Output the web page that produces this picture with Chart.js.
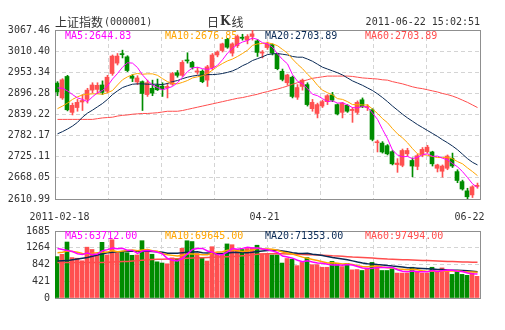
<!DOCTYPE html>
<html><head><meta charset="utf-8">
<script src="https://cdn.jsdelivr.net/npm/chart.js@4/dist/chart.umd.min.js"></script>
<style>
html,body{margin:0;padding:0;background:#fff;}
#wrap{position:relative;width:505px;height:330px;overflow:hidden;}
#c1{position:absolute;left:0;top:0;}
#c2{position:absolute;left:0;top:215px;}
</style></head><body>
<div id="wrap"><canvas id="c1" width="505" height="225"></canvas><canvas id="c2" width="505" height="115"></canvas></div>
<script>
// ---------------- DATA ----------------
const days = ['02-18','02-21','02-22','02-23','02-24','02-25','02-28','03-01','03-02','03-03','03-04','03-07','03-08','03-09','03-10','03-11','03-14','03-15','03-16','03-17','03-18','03-21','03-22','03-23','03-24','03-25','03-28','03-29','03-30','03-31','04-01','04-06','04-07','04-08','04-11','04-12','04-13','04-14','04-15','04-18','04-19','04-20','04-21','04-22','04-25','04-26','04-27','04-28','04-29','05-03','05-04','05-05','05-06','05-09','05-10','05-11','05-12','05-13','05-16','05-17','05-18','05-19','05-20','05-23','05-24','05-25','05-26','05-27','05-30','05-31','06-01','06-02','06-03','06-07','06-08','06-09','06-10','06-13','06-14','06-15','06-16','06-17','06-20','06-21','06-22'];
const open  = [2924,2884,2942,2845,2858,2873,2880,2905,2907,2919,2902,2950,2978,3003,2995,2943,2927,2928,2893,2910,2918,2916,2912,2921,2952,2945,2986,2980,2954,2956,2932,2966,3000,3012,3042,3005,3025,3048,3040,3050,3038,3005,3020,3028,3002,2956,2925,2940,2886,2915,2920,2855,2842,2862,2874,2892,2866,2845,2864,2850,2845,2879,2858,2852,2763,2762,2755,2739,2704,2702,2733,2715,2699,2730,2739,2738,2694,2686,2694,2721,2685,2658,2633,2622,2645];
const high  = [2928,2936,2945,2870,2880,2893,2910,2925,2925,2930,2945,3000,3004,3013,2998,2947,2944,2930,2932,2932,2935,2925,2924,2953,2958,2985,3006,2983,2966,2960,2972,3004,3011,3032,3045,3033,3054,3056,3055,3067.46,3042,3012,3035,3030,3005,2962,2948,2943,2920,2935,2925,2880,2870,2878,2893,2899,2868,2872,2866,2858,2876,2884,2866,2855,2770,2766,2758,2742,2720,2746,2748,2722,2732,2750,2756,2740,2705,2703,2730,2735,2690,2662,2640,2647,2654];
const low   = [2890,2880,2849,2838,2848,2850,2870,2898,2896,2893,2898,2945,2973,2992,2955,2928,2920,2850,2888,2890,2904,2888,2884,2918,2940,2942,2978,2962,2948,2925,2915,2960,2995,3008,3018,2997,3020,3040,3030,3040,2996,2992,3015,3000,2960,2930,2918,2884,2880,2905,2862,2848,2830,2858,2866,2874,2838,2830,2845,2818,2840,2858,2850,2768,2738,2735,2730,2703,2683,2698,2728,2671,2690,2725,2735,2700,2684,2670,2690,2696,2655,2635,2610.99,2615,2640];
const close = [2900,2933,2852,2864,2872,2877,2905,2919,2918,2899,2940,2997,2997,3001,2958,2937,2938,2896,2925,2897,2906,2908,2915,2950,2945,2980,2984,2967,2957,2928,2968,3000,3008,3030,3021,3030,3050,3045,3050,3057,3007,3008,3030,3005,2963,2934,2946,2888,2912,2932,2866,2872,2866,2874,2890,2878,2841,2870,2848,2853,2872,2860,2860,2772,2765,2738,2733,2706,2708,2742,2742,2700,2728,2745,2751,2706,2703,2700,2727,2700,2661,2638,2617,2644,2648];

const ma5  = [2911,2910,2903,2893,2884,2880,2874,2887,2898,2904,2916,2935,2950,2967,2979,2978,2966,2946,2931,2919,2912,2906,2910,2915,2925,2940,2955,2965,2967,2963,2961,2964,2972,2987,3005,3018,3028,3035,3039,3046,3042,3033,3030,3021,3003,2988,2976,2947,2929,2922,2909,2894,2890,2882,2874,2876,2870,2871,2865,2858,2857,2861,2859,2843,2826,2799,2774,2743,2730,2725,2726,2720,2724,2731,2733,2726,2727,2721,2717,2707,2698,2685,2669,2652,2642];
const ma10 = [2855,2862,2870,2880,2887,2892,2894,2895,2895,2894,2898,2904,2919,2933,2941,2947,2950,2948,2949,2949,2945,2936,2928,2923,2922,2926,2931,2938,2941,2944,2950,2959,2969,2977,2984,2989,2996,3004,3013,3026,3030,3031,3033,3030,3025,3015,3005,2989,2975,2963,2948,2935,2918,2905,2898,2892,2882,2880,2874,2866,2866,2865,2865,2854,2842,2828,2817,2801,2787,2776,2763,2747,2733,2731,2729,2726,2723,2723,2724,2720,2712,2706,2695,2685,2674];
const ma20 = [2787,2793,2800,2808,2818,2832,2843,2851,2860,2869,2880,2893,2903,2912,2917,2921,2922,2922,2921,2921,2921,2920,2923,2928,2931,2936,2940,2943,2945,2946,2947,2947,2948,2950,2953,2957,2963,2971,2977,2985,2990,2995,3001,3003,3004,3002,3000,2996,2994,2994,2989,2983,2975,2967,2962,2957,2952,2946,2938,2930,2924,2918,2911,2904,2895,2885,2874,2862,2851,2840,2830,2821,2812,2804,2796,2788,2780,2771,2763,2754,2744,2732,2720,2710,2703];
const ma60 = [2826,2826,2826,2826,2826,2826,2826,2826,2828,2830,2831,2832,2835,2837,2838,2840,2841,2842,2842,2843,2844,2846,2848,2848,2848,2850,2853,2856,2859,2862,2865,2868,2871,2874,2877,2880,2883,2885,2888,2891,2894,2898,2901,2905,2908,2912,2916,2921,2925,2929,2933,2937,2939,2941,2943,2943,2943,2943,2943,2942,2940,2938,2937,2936,2935,2933,2932,2928,2925,2922,2918,2914,2911,2909,2906,2903,2900,2896,2893,2889,2884,2878,2872,2865,2858];

const vol     = [1042,1099,1408,1017,1001,936,1278,1221,1099,1400,1083,1465,1140,1164,1140,1074,1083,1441,1221,1100,910,880,860,1010,990,1250,1440,1420,1120,1000,930,1290,1120,1100,1360,1340,1220,1220,1245,1262,1327,1115,1115,1083,1083,879,993,977,814,895,1017,838,838,773,773,920,871,790,871,708,716,692,733,895,814,692,692,733,627,627,627,773,651,627,627,773,651,757,708,594,667,594,570,627,545];
const volMa5  = [1245,1220,1197,1170,1113,1092,1128,1091,1107,1187,1216,1254,1237,1250,1198,1197,1120,1180,1192,1184,1151,1110,994,952,930,998,1110,1222,1244,1246,1182,1152,1092,1088,1160,1242,1228,1248,1277,1257,1255,1234,1213,1180,1145,1055,1031,1003,949,912,939,908,880,872,848,828,835,825,845,832,791,755,744,749,770,765,765,765,712,674,661,677,661,661,661,690,666,687,703,697,675,664,627,610,601];
const volMa10 = [1140,1150,1180,1170,1150,1120,1115,1125,1140,1150,1154,1191,1164,1179,1193,1206,1187,1209,1221,1191,1174,1115,1087,1072,1057,1075,1110,1108,1098,1088,1090,1131,1157,1166,1203,1212,1190,1170,1183,1209,1248,1231,1230,1229,1201,1155,1132,1108,1065,1028,997,969,942,911,880,884,872,853,859,840,810,795,785,797,801,778,760,755,730,722,713,721,713,686,668,676,672,674,682,679,683,665,657,657,649];
const volMa20 = [930,935,940,960,980,1000,1017,1050,1080,1110,1140,1150,1160,1170,1175,1180,1178,1176,1174,1171,1164,1153,1126,1126,1125,1141,1149,1159,1160,1140,1132,1123,1122,1119,1130,1144,1150,1139,1141,1149,1169,1181,1194,1198,1202,1184,1161,1139,1124,1119,1123,1100,1086,1070,1041,1020,1002,981,962,934,904,882,864,854,841,831,816,804,795,781,762,758,749,742,735,727,716,715,706,701,698,693,685,672,659];
const volMa60 = [895,895,895,895,895,895,895,895,895,895,900,905,910,915,920,930,940,950,960,970,975,977,980,985,990,995,1000,1005,1010,1015,1020,1025,1030,1035,1040,1045,1050,1060,1070,1085,1100,1105,1110,1110,1110,1110,1108,1105,1100,1095,1090,1085,1080,1075,1068,1060,1055,1048,1040,1030,1025,1017,1010,1003,995,988,980,975,970,965,960,955,950,945,940,935,930,925,920,915,910,906,903,900,897];

const yTickVals   = [3067.46,3010.40,2953.34,2896.28,2839.22,2782.17,2725.11,2668.05,2610.99];
const yTickLabels = ['3067.46','3010.40','2953.34','2896.28','2839.22','2782.17','2725.11','2668.05','2610.99'];
const volTickVals   = [1685,1264,842,421,0];
const volTickLabels = ['1685','1264','842','421','0'];
const dateLabelDays = ['02-18','04-21','06-22'];
const dateLabels    = ['2011-02-18','04-21','06-22'];
const maNames   = ['MA5','MA10','MA20','MA60'];
const maLast    = ['2644.83','2676.85','2703.89','2703.89'];
const volMaLast = ['63712.00','69645.00','71353.00','97494.00'];
const titleName = '上证指数';
const titleCode = '(000001)';
const kindText  = ['日','K','线'];
const stampText = '2011-06-22 15:02:51';

// ---------------- STYLE / LAYOUT ----------------
const UP = '#ff5050', DOWN = '#008c00';
const MA_COLORS = ['#ff00ff','#ffa500','#0a2a55','#ff4d4d'];
const MONO = '"DejaVu Sans Mono", monospace';
const CJK = '"Noto Sans CJK SC", sans-serif';
const GRID = '#d4d4d4';
const N = days.length;
const dateNudge = [0.4, -0.6, -1.6];
const gridX = Array.from({length: 9}, (_, k) => -0.5 + k * N / 8);
const candleColor = close.map((c, i) => c >= open[i] ? UP : DOWN);
const pts = arr => arr.map((v, i) => ({x: i, y: v}));

const textPlugin = {
  id: 'texts',
  beforeDatasetsDraw(chart, args, o) {
    const {ctx, chartArea: a} = chart;
    ctx.save();
    ctx.strokeStyle = '#8f8f8f'; ctx.lineWidth = 1;
    ctx.strokeRect(a.left + 0.5, a.top + 0.5, a.right - a.left, a.bottom - a.top);
    ctx.font = '10px ' + MONO; ctx.textBaseline = 'middle'; ctx.textAlign = 'left';
    o.values.forEach((v, k) => {
      ctx.fillStyle = MA_COLORS[k];
      ctx.fillText(maNames[k] + ':' + v, a.left + 10 + 100 * k, a.top + o.dy);
    });
    if (o.header) {
      const y = 22;
      ctx.fillStyle = '#333';
      ctx.font = '12px ' + CJK; ctx.fillText(titleName, a.left, y);
      const w = ctx.measureText(titleName).width;
      ctx.font = '10px ' + MONO; ctx.fillText(titleCode, a.left + w + 1, y);
      let x = 207;
      ctx.font = '12px ' + CJK; ctx.fillText(kindText[0], x, y); x += ctx.measureText(kindText[0]).width + 1;
      ctx.font = 'bold 12px "DejaVu Serif"'; ctx.fillText(kindText[1], x, y); x += ctx.measureText(kindText[1]).width + 1;
      ctx.font = '12px ' + CJK; ctx.fillText(kindText[2], x, y);
      ctx.font = '10px ' + MONO; ctx.textAlign = 'right'; ctx.fillText(stampText, a.right, y);
    }
    ctx.restore();
  }
};

function lineDs(arr, k, w) {
  return {type: 'line', data: pts(arr), borderColor: MA_COLORS[k], borderWidth: w, pointRadius: 0,
          tension: 0, xAxisID: 'x', yAxisID: 'y', order: 0};
}
function gridXAxis(h) {
  return {type: 'linear', min: -0.5, max: N - 0.5, offset: false, position: 'bottom',
    grid: {color: GRID, lineWidth: 1, drawTicks: false, offset: false},
    border: {display: false, dash: [4, 3]}, ticks: {display: false},
    afterBuildTicks: s => { s.ticks = gridX.map(v => ({value: v})); },
    afterFit: s => { s.height = h; }};
}
const hiddenBodyAxis = {type: 'linear', display: false, min: -0.4, max: N - 0.4, offset: false};

// ---------------- MAIN K-LINE CHART ----------------
new Chart(document.getElementById('c1'), {
  type: 'bar',
  data: {
    datasets: [
      lineDs(ma5, 0, 1), lineDs(ma10, 1, 1), lineDs(ma20, 2, 1), lineDs(ma60, 3, 1),
      {type: 'bar', data: open.map((o, i) => ({x: i, y: [o, close[i]]})), backgroundColor: candleColor,
       barThickness: 4, grouped: false, minBarLength: 1, xAxisID: 'xb', yAxisID: 'y', order: 1},
      {type: 'bar', data: low.map((l, i) => ({x: i, y: [l, high[i]]})), backgroundColor: candleColor,
       barThickness: 1, grouped: false, xAxisID: 'x', yAxisID: 'y', order: 2}
    ]
  },
  options: {
    responsive: false, animation: false, devicePixelRatio: 1, events: [],
    layout: {padding: {top: 30, right: 25, left: 0, bottom: 0}},
    plugins: {legend: {display: false}, tooltip: {enabled: false},
              texts: {values: maLast, dy: 6.5, header: true}},
    scales: {
      x: gridXAxis(0),
      xb: hiddenBodyAxis,
      x2: {type: 'linear', min: -0.5, max: N - 0.5, offset: false, position: 'bottom',
        grid: {display: false, drawTicks: false}, border: {display: false},
        ticks: {autoSkip: false, maxRotation: 0, padding: 12, color: '#333',
                font: {family: MONO, size: 10}, callback: (v, i) => dateLabels[i]},
        afterBuildTicks: s => { s.ticks = dateLabelDays.map((d, k) => ({value: days.indexOf(d) + dateNudge[k]})); },
        afterFit: s => { s.height = 26; }},
      y: {type: 'linear', min: yTickVals[yTickVals.length - 1], max: yTickVals[0], beginAtZero: false,
        grid: {color: GRID, drawTicks: false}, border: {display: false, dash: [4, 3]},
        ticks: {autoSkip: false, padding: 5, color: '#333', font: {family: MONO, size: 10},
                callback: (v, i) => yTickLabels[i]},
        afterBuildTicks: s => { s.ticks = yTickVals.map(v => ({value: v})); },
        afterFit: s => { s.width = 55; }}
    }
  },
  plugins: [textPlugin]
});

// ---------------- VOLUME CHART ----------------
new Chart(document.getElementById('c2'), {
  type: 'bar',
  data: {
    datasets: [
      lineDs(volMa5, 0, 1.5), lineDs(volMa10, 1, 1.5), lineDs(volMa20, 2, 1.5), lineDs(volMa60, 3, 1.5),
      {type: 'bar', data: pts(vol), backgroundColor: candleColor, barThickness: 4, grouped: false,
       xAxisID: 'xb', yAxisID: 'y', order: 1}
    ]
  },
  options: {
    responsive: false, animation: false, devicePixelRatio: 1, events: [],
    layout: {padding: {top: 16, right: 25, left: 0, bottom: 0}},
    plugins: {legend: {display: false}, tooltip: {enabled: false},
              texts: {values: volMaLast, dy: 5.5, header: false}},
    scales: {
      x: gridXAxis(32),
      xb: hiddenBodyAxis,
      y: {type: 'linear', min: 0, max: volTickVals[0], beginAtZero: false,
        grid: {color: GRID, drawTicks: false}, border: {display: false, dash: [4, 3]},
        ticks: {autoSkip: false, padding: 5, color: '#333', font: {family: MONO, size: 10},
                callback: (v, i) => volTickLabels[i]},
        afterBuildTicks: s => { s.ticks = volTickVals.map(v => ({value: v})); },
        afterFit: s => { s.width = 55; }}
    }
  },
  plugins: [textPlugin]
});
</script>
</body></html>
